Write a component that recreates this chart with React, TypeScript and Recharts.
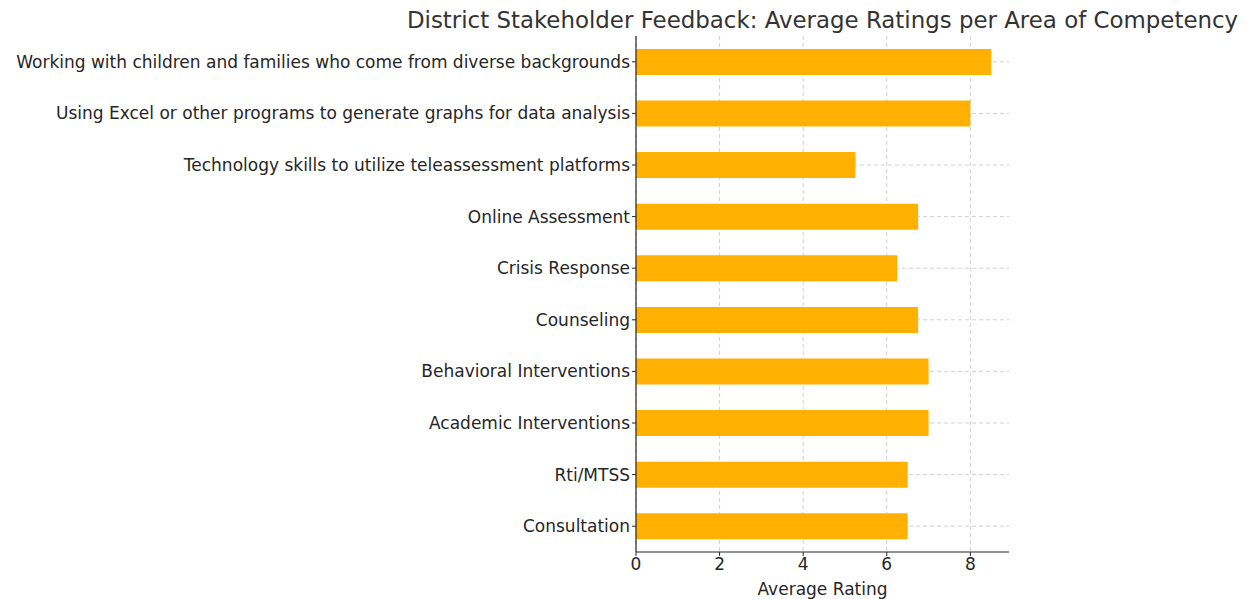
import React from 'react';
import { BarChart, Bar, XAxis, YAxis, CartesianGrid } from 'recharts';

const areas = [
  'Working with children and families who come from diverse backgrounds',
  'Using Excel or other programs to generate graphs for data analysis',
  'Technology skills to utilize teleassessment platforms',
  'Online Assessment',
  'Crisis Response',
  'Counseling',
  'Behavioral Interventions',
  'Academic Interventions',
  'Rti/MTSS',
  'Consultation',
];

const ratings = [8.5, 8.0, 5.25, 6.75, 6.25, 6.75, 7.0, 7.0, 6.5, 6.5];

const xTicks = [0, 2, 4, 6, 8];
const X_MAX = 8.925;

const data = areas.map((area, i) => ({ area, rating: ratings[i] }));

const FONT = '"DejaVu Sans", sans-serif';
const TEXT = '#262626';

const AreaTick = (props: any) => {
  const { x, y, payload } = props;
  return (
    <text
      x={x}
      y={y}
      dy="0.35em"
      textAnchor="end"
      fontFamily={FONT}
      fontSize={17}
      fill={TEXT}
    >
      {payload.value}
    </text>
  );
};

// grid lines only at the tick values / bar centres, no border box
const vLines = ({ offset }: any) =>
  xTicks.map((t) => offset.left + (t / X_MAX) * offset.width);
const hLines = ({ offset }: any) =>
  areas.map((_, i) => offset.top + ((i + 0.5) * offset.height) / areas.length);

export default function App() {
  return (
    <div style={{ position: 'absolute', left: 0, top: 0, width: 1250, height: 599, background: '#fff' }}>
      <div
        style={{
          position: 'absolute',
          left: 636,
          width: 373,
          top: 7,
          whiteSpace: 'nowrap',
          display: 'flex',
          justifyContent: 'center',
          fontFamily: FONT,
          fontSize: 22.9,
          color: '#333',
        }}
      >
        District Stakeholder Feedback: Average Ratings per Area of Competency
      </div>
      <BarChart
        width={1250}
        height={599}
        data={data}
        layout="vertical"
        margin={{ top: 36, right: 241, bottom: 0, left: 0 }}
        barCategoryGap="25%"
      >
        <CartesianGrid
          strokeDasharray="4 3"
          stroke="#d0d0d0"
          verticalCoordinatesGenerator={vLines}
          horizontalCoordinatesGenerator={hLines}
        />
        <XAxis
          type="number"
          domain={[0, X_MAX]}
          ticks={xTicks}
          height={47}
          tickSize={4}
          tick={{ fill: TEXT, fontSize: 17, fontFamily: FONT }}
          tickLine={{ stroke: TEXT }}
          axisLine={{ stroke: TEXT, strokeWidth: 1.2 }}
          allowDataOverflow
          label={{
            value: 'Average Rating',
            position: 'insideBottom',
            offset: 4,
            fill: TEXT,
            fontSize: 17,
            fontFamily: FONT,
          }}
        />
        <YAxis
          type="category"
          dataKey="area"
          width={636}
          tickSize={4}
          tick={<AreaTick />}
          tickLine={{ stroke: TEXT }}
          axisLine={{ stroke: TEXT, strokeWidth: 1.2 }}
          interval={0}
        />
        <Bar dataKey="rating" fill="#FFB000" isAnimationActive={false} />
      </BarChart>
    </div>
  );
}
